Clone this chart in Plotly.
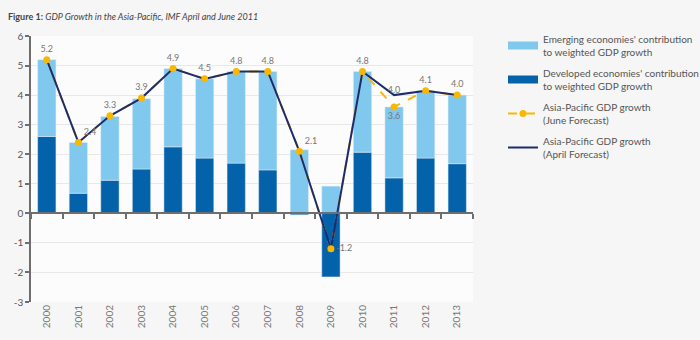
import plotly.graph_objects as go

years = ["2000", "2001", "2002", "2003", "2004", "2005", "2006", "2007",
         "2008", "2009", "2010", "2011", "2012", "2013"]
developed = [2.6, 0.68, 1.12, 1.5, 2.25, 1.87, 1.7, 1.47, -0.05, -2.15, 2.07, 1.2, 1.87, 1.68]
emerging = [2.6, 1.72, 2.16, 2.38, 2.65, 2.68, 3.1, 3.33, 2.15, 0.92, 2.73, 2.4, 2.28, 2.32]
april = [5.2, 2.4, 3.3, 3.9, 4.9, 4.55, 4.8, 4.8, 2.1, -1.2, 4.8, 4.0, 4.15, 4.0]
june = [5.2, 2.4, 3.3, 3.9, 4.9, 4.55, 4.8, 4.8, 2.1, -1.2, 4.8, 3.6, 4.15, 4.0]
june_labels = ["5.2", "2.4", "3.3", "3.9", "4.9", "4.5", "4.8", "4.8", "2.1", "-1.2", "4.8", "3.6", "4.1", "4.0"]
june_label_pos = ["top center", "top right", "top center", "top center", "top center", "top center",
                  "top center", "top center", "top right", "middle right", "top center",
                  "bottom center", "top center", "top center"]
april_labels = ["", "", "", "", "", "", "", "", "", "", "", "4.0", "", ""]
y_ticks = [-3, -2, -1, 0, 1, 2, 3, 4, 5, 6]
y_tick_text = ["-3", "-2", "-1", "0", "1", "2", "3", "4", "5", "6"]

C_LIGHT = "#80c8ee"
C_DARK = "#0462ab"
C_NAVY = "#1e2c6c"
C_ORANGE = "#f8b700"
TXT = "#555555"

fig = go.Figure()

# bars
fig.add_bar(x=years, y=developed, marker_color=C_DARK, width=0.58, showlegend=False)
fig.add_bar(x=years, y=emerging, marker_color=C_LIGHT, width=0.58, showlegend=False)

# June forecast dashed line (under the April line)
fig.add_scatter(x=years, y=june, mode="lines", line=dict(color=C_ORANGE, width=2, dash="dash"),
                showlegend=False, xaxis="x2")
# April line
fig.add_scatter(x=years, y=april, mode="lines+text", line=dict(color=C_NAVY, width=2),
                text=april_labels, textposition="top center",
                textfont=dict(size=9, color="#777777"), showlegend=False, xaxis="x2")
# June markers on top
fig.add_scatter(x=years, y=june, mode="markers+text", marker=dict(color=C_ORANGE, size=7),
                text=june_labels, textposition=june_label_pos,
                textfont=dict(size=9, color="#777777"), showlegend=False, xaxis="x2")

# legend entries
fig.add_scatter(x=[None], y=[None], mode="lines", line=dict(color=C_LIGHT, width=8),
                name="Emerging economies' contribution<br>to weighted GDP growth", legendgroup="a")
fig.add_scatter(x=[None], y=[None], mode="lines", line=dict(color=C_DARK, width=8),
                name="Developed economies' contribution<br>to weighted GDP growth", legendgroup="b")
fig.add_scatter(x=[None], y=[None], mode="lines+markers", line=dict(color=C_ORANGE, width=2, dash="dash"),
                marker=dict(color=C_ORANGE, size=7),
                name="Asia-Pacific GDP growth<br>(June Forecast)", legendgroup="c")
fig.add_scatter(x=[None], y=[None], mode="lines", line=dict(color=C_NAVY, width=2),
                name="Asia-Pacific GDP growth<br>(April Forecast)", legendgroup="d")

fig.update_layout(
    width=700, height=340,
    barmode="relative",
    paper_bgcolor="#f6f6f6",
    plot_bgcolor="#fcfcfc",
    margin=dict(l=31, r=227, t=36, b=36),
    font=dict(family="Lato, 'Open Sans', sans-serif", size=10, color=TXT),
    title=dict(text="<b>Figure 1:</b> <i>GDP Growth in the Asia-Pacific, IMF April and June 2011</i>",
               x=8 / 700, xanchor="left", y=1 - 17 / 340, yanchor="middle",
               font=dict(size=9, color="#444444")),
    xaxis=dict(type="category", categoryorder="array", categoryarray=years,
               range=[-0.5, 13.5], tickangle=-90, showline=False, ticks="",
               showgrid=False, tickfont=dict(size=10, color="#777777")),
    xaxis2=dict(type="category", overlaying="x", matches="x", anchor="free", position=1 / 3,
                side="bottom", showline=True, linecolor="#6e6e6e", linewidth=1.5,
                ticks="outside", ticklen=5, tickcolor="#6e6e6e", tickwidth=1.5,
                tickson="boundaries", showticklabels=False, showgrid=False),
    yaxis=dict(range=[-3, 6], tickvals=y_ticks, ticktext=y_tick_text,
               showline=True, linecolor="#6e6e6e", linewidth=1.5,
               ticks="outside", ticklen=4, tickcolor="#6e6e6e", tickwidth=1.5,
               gridcolor="#e8e8e8", zeroline=False, tickfont=dict(size=10, color=TXT)),
    legend=dict(xref="container", yref="container", x=503 / 700, y=1 - 26 / 340,
                xanchor="left", yanchor="top", bgcolor="rgba(0,0,0,0)",
                font=dict(size=10, color=TXT), itemwidth=30, tracegroupgap=5),
)

fig.write_html("out.html")
